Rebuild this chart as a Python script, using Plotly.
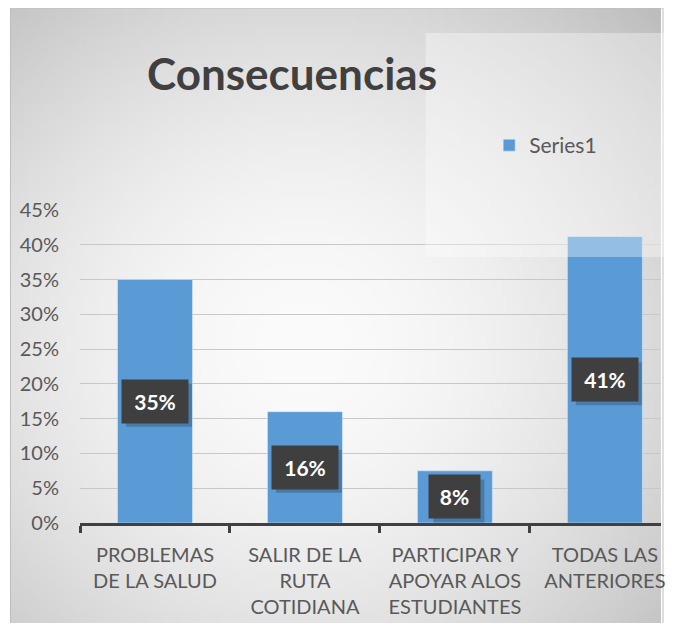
import base64
import struct
import zlib

import plotly.graph_objects as go

categorias = ["PROBLEMAS<br>DE LA SALUD", "SALIR DE LA<br>RUTA<br>COTIDIANA",
              "PARTICIPAR Y<br>APOYAR ALOS<br>ESTUDIANTES", "TODAS LAS<br>ANTERIORES"]
valores = [0.35, 0.16, 0.075, 0.412]
etiquetas = ["35%", "16%", "8%", "41%"]
serie = "Series1"
titulo = "Consecuencias"

# page adds an 8px body margin, so the figure is kept inside the window
W, H = 657, 615
ML, MR, MT, MB = 72, 0, 202, 100
PW, PH = W - ML - MR, H - MT - MB


def fondo_png(w=120, h=112):
    # radial grey gradient like the office chart style
    filas = []
    for j in range(h):
        fila = [0]
        for i in range(w):
            dx = (i / (w - 1) - 0.45) / 0.55
            dy = (j / (h - 1) - 0.55) / 0.55
            r2 = min(1.0, (dx * dx + dy * dy) / 2)
            fila.append(int(251 - 62 * r2 ** 0.9))
        filas.append(bytes(fila))
    raw = b"".join(filas)

    def chunk(t, d):
        c = struct.pack(">I", len(d)) + t + d
        return c + struct.pack(">I", zlib.crc32(t + d) & 0xffffffff)

    png = b"\x89PNG\r\n\x1a\n" + chunk(b"IHDR", struct.pack(">IIBBBBB", w, h, 8, 0, 0, 0, 0))
    png += chunk(b"IDAT", zlib.compress(raw)) + chunk(b"IEND", b"")
    return "data:image/png;base64," + base64.b64encode(png).decode()


def px(x):
    return (x - ML) / PW


def py(y):
    return (H - MB - y) / PH


fig = go.Figure()
fig.add_trace(go.Bar(x=categorias, y=valores, name=serie, marker_color="#5B9BD5",
                     showlegend=True))

# data labels in dark boxes with a soft shadow
PAD, ALTO = 10, 23
for i, (v, t) in enumerate(zip(valores, etiquetas)):
    ancho = 15 * len(t) + 1
    mw, mh = ancho / 2 + PAD, ALTO / 2 + PAD
    fig.add_shape(type="rect", xref="x", yref="y", xsizemode="pixel", ysizemode="pixel",
                  xanchor=i, yanchor=v / 2, x0=-mw + 4, x1=mw + 4, y0=-mh - 4, y1=mh - 4,
                  fillcolor="rgba(30,50,80,0.30)", line=dict(width=0), layer="above")
    fig.add_annotation(x=i, y=v / 2, text="<b>%s</b>" % t, showarrow=False,
                       font=dict(family="Lato", size=21, color="white"),
                       width=ancho, height=ALTO, bgcolor="#3f3f3f", borderpad=PAD)

fig.add_layout_image(source=fondo_png(), xref="paper", yref="paper",
                     x=px(2), y=py(0), sizex=px(W) - px(2), sizey=py(0) - py(H),
                     xanchor="left", yanchor="top", sizing="stretch", layer="below")

# outline of the chart area
fig.add_shape(type="rect", xref="paper", yref="paper", x0=px(2), x1=px(W + 2),
              y0=py(H + 2), y1=py(0), line=dict(color="#bdbdbd", width=1), layer="below")
# translucent legend panel
fig.add_shape(type="rect", xref="paper", yref="paper", x0=px(420), x1=px(W + 5),
              y0=py(249), y1=py(25), fillcolor="rgba(255,255,255,0.35)",
              line=dict(width=0), layer="above")

fig.update_layout(
    width=W, height=H,
    margin=dict(l=ML, r=MR, t=MT, b=MB),
    paper_bgcolor="white", plot_bgcolor="rgba(0,0,0,0)",
    font=dict(family="Lato", color="#595959"),
    title=dict(text="<b>%s</b>" % titulo, x=284 / W, xanchor="center",
               y=1 - 67 / H, yanchor="middle",
               font=dict(family="Lato", size=44, color="#404040")),
    bargap=0.5,
    legend=dict(x=px(484), y=py(117), xanchor="left", yanchor="top",
                bgcolor="rgba(0,0,0,0)", font=dict(size=21, color="#595959")),
    xaxis=dict(range=[-0.5, -0.5 + PW / 151], showgrid=False, showline=True,
               linecolor="#404040", linewidth=3, ticks="outside", tickson="boundaries",
               ticklen=7, tickwidth=3, tickcolor="#404040", ticklabelstandoff=12,
               tickfont=dict(size=20, color="#595959")),
    yaxis=dict(range=[0, 0.45], dtick=0.05, tickformat=".0%", showgrid=True,
               gridcolor="#c8c8c8", gridwidth=1, zeroline=False, ticklabelstandoff=20,
               tickfont=dict(size=20, color="#595959")),
)

fig.write_html("out.html")
